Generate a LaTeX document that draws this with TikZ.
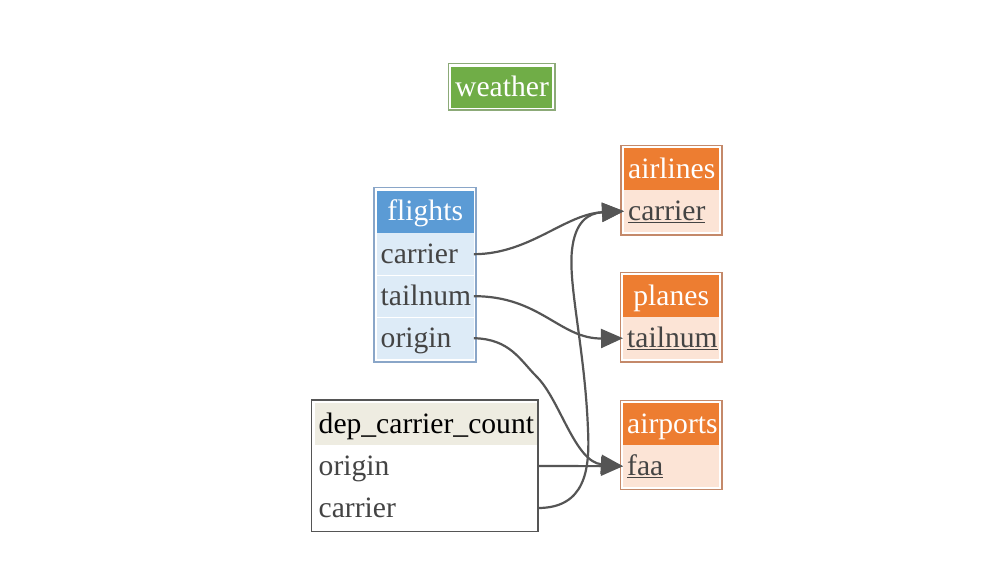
\documentclass[tikz,border=0pt]{standalone}
\usepackage{fontspec}
\setmainfont{Liberation Serif}
\usetikzlibrary{arrows.meta}
\definecolor{bluehead}{HTML}{5B9BD5}
\definecolor{bluerow}{HTML}{DDEBF7}
\definecolor{blueborder}{HTML}{8AA6C8}
\definecolor{orhead}{HTML}{ED7D31}
\definecolor{orrow}{HTML}{FCE4D6}
\definecolor{orborder}{HTML}{C4896A}
\definecolor{grhead}{HTML}{70AD47}
\definecolor{grborder}{HTML}{8CAA78}
\definecolor{beige}{HTML}{EEECE1}
\definecolor{depborder}{HTML}{555555}
\definecolor{txt}{HTML}{444444}
\definecolor{edge}{HTML}{555555}
\tikzset{
  cell/.style={anchor=north west, minimum height=42, inner xsep=4, inner ysep=0,
    text height=22, text depth=4, font=\fontsize{29.6}{35}\selectfont, align=left, text=txt},
  headcell/.style={cell, align=center, text=white},
  tblborder/.style={line width=1.7},
  fk/.style={draw=edge, line width=2.2, -{Triangle[length=22pt, width=19pt]}}
}
\begin{document}
\begin{tikzpicture}[x=1pt,y=-1pt]
\useasboundingbox[fill=white] (0,0) rectangle (1000,580);

% weather
\draw[tblborder, draw=grborder] (448.5,63.5) rectangle (555,110);
\node[headcell, fill=grhead, text width=93, minimum height=41] (weather) at (451,66.5) {weather};

% airlines
\draw[tblborder, draw=orborder] (621,145.5) rectangle (722,235);
\node[headcell, fill=orhead, text width=87] (airlines) at (624,148) {airlines};
\node[cell, fill=orrow, text width=87] (al-carrier) at (624,190) {\underline{carrier}};

% planes
\draw[tblborder, draw=orborder] (620.5,272.5) rectangle (722,362);
\node[headcell, fill=orhead, text width=88] (planes) at (623,275) {planes};
\node[cell, fill=orrow, text width=88] (pl-tailnum) at (623,317) {\underline{tailnum}};

% airports
\draw[tblborder, draw=orborder] (620.5,400.5) rectangle (722,489.5);
\node[headcell, fill=orhead, text width=88] (airports) at (623,403) {airports};
\node[cell, fill=orrow, text width=88] (ap-faa) at (623,445) {\underline{faa}};

% flights
\draw[tblborder, draw=blueborder] (374,187.5) rectangle (476,362);
\node[headcell, fill=bluehead, text width=89] (flights) at (376.5,190.5) {flights};
\node[cell, fill=bluerow, text width=89] (fl-carrier) at (376.5,233) {carrier};
\node[cell, fill=bluerow, text width=89] (fl-tailnum) at (376.5,275) {tailnum};
\node[cell, fill=bluerow, text width=89] (fl-origin) at (376.5,317) {origin};
\draw[white, line width=0.8] (fl-carrier.south west) -- (fl-carrier.south east);
\draw[white, line width=0.8] (fl-tailnum.south west) -- (fl-tailnum.south east);

% dep_carrier_count
\draw[tblborder, draw=depborder] (311.5,400) rectangle (538,531.5);
\node[cell, fill=beige, text=black, text width=214] (dep) at (314.5,403) {dep\_carrier\_count};
\node[cell, text width=214] (dep-origin) at (314.5,445) {origin};
\node[cell, text width=214] (dep-carrier) at (314.5,487) {carrier};

% connectors
\draw[fk] (fl-carrier.east) .. controls (530,254) and (565,214) .. (al-carrier.west);
\draw[fk] (fl-tailnum.east) .. controls (540,296) and (560,339) .. (pl-tailnum.west);
\draw[fk] (fl-origin.east) .. controls (510,339) and (520,360) .. (537,377)
  .. controls (560,400) and (575,462) .. (ap-faa.west);
\coordinate (dep-origin-port) at (538,466);
\coordinate (dep-carrier-port) at (538,508);
\draw[fk] (dep-origin-port) -- (ap-faa.west);
\draw[fk] (dep-carrier-port) .. controls (585,508) and (590,470) .. (588,430)
  .. controls (585,350) and (568,285) .. (572,250)
  .. controls (575,222) and (588,213) .. (al-carrier.west);
\end{tikzpicture}
\end{document}
